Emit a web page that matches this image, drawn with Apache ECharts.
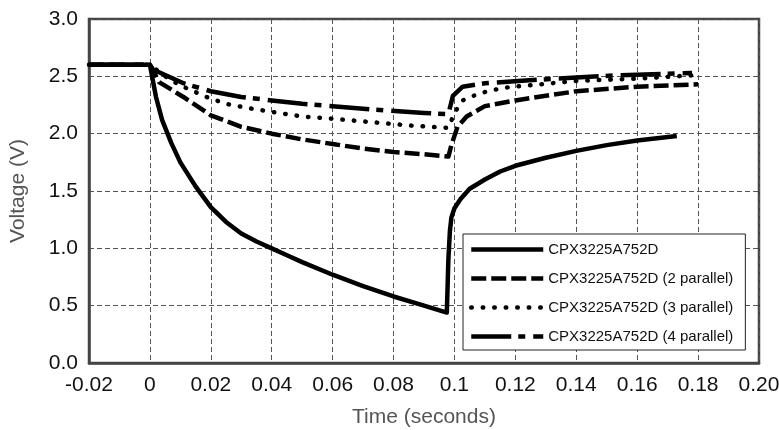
<!DOCTYPE html>
<html>
<head>
<meta charset="utf-8">
<script src="https://cdn.jsdelivr.net/npm/echarts@6/dist/echarts.min.js"></script>
<style>
  html, body { margin: 0; padding: 0; background: #fff; }
  #chart { width: 779px; height: 430px; }
</style>
</head>
<body>
<div id="chart"></div>
<script>
  // series names
  const names = [
    'CPX3225A752D',
    'CPX3225A752D (2 parallel)',
    'CPX3225A752D (3 parallel)',
    'CPX3225A752D (4 parallel)'
  ];

  // tick labels
  const xLabels = ['-0.02', '0', '0.02', '0.04', '0.06', '0.08', '0.1', '0.12', '0.14', '0.16', '0.18', '0.20'];
  const yLabels = ['0.0', '0.5', '1.0', '1.5', '2.0', '2.5', '3.0'];

  // single capacitor
  const t1 = [-0.02, 0, 0.002, 0.004, 0.007, 0.01, 0.015, 0.02, 0.025, 0.03, 0.035, 0.04, 0.045, 0.05, 0.06, 0.07, 0.08, 0.09, 0.0975,
              0.098, 0.0985, 0.099, 0.1, 0.102, 0.105, 0.11, 0.115, 0.12, 0.13, 0.14, 0.15, 0.16, 0.173];
  const v1 = [2.6, 2.6, 2.32, 2.12, 1.92, 1.75, 1.54, 1.36, 1.23, 1.13, 1.06, 1.0, 0.94, 0.88, 0.77, 0.67, 0.58, 0.50, 0.44,
              0.9, 1.15, 1.27, 1.35, 1.43, 1.52, 1.60, 1.67, 1.72, 1.79, 1.85, 1.90, 1.94, 1.98];

  // 2 parallel
  const t2 = [-0.02, 0, 0.003, 0.011, 0.02, 0.03, 0.04, 0.05, 0.06, 0.07, 0.08, 0.09, 0.098,
              0.099, 0.101, 0.104, 0.11, 0.12, 0.13, 0.14, 0.16, 0.18];
  const v2 = [2.6, 2.6, 2.45, 2.32, 2.16, 2.06, 2.0, 1.95, 1.91, 1.87, 1.84, 1.82, 1.80,
              1.9, 2.06, 2.15, 2.24, 2.29, 2.33, 2.37, 2.41, 2.43];

  // 3 parallel
  const t3 = [-0.02, 0, 0.005, 0.01, 0.0186, 0.025, 0.033, 0.04, 0.05, 0.06, 0.073, 0.086, 0.098,
              0.1, 0.1027, 0.108, 0.116, 0.124, 0.14, 0.16, 0.179];
  const v3 = [2.6, 2.6, 2.5, 2.42, 2.32, 2.26, 2.22, 2.19, 2.15, 2.13, 2.10, 2.07, 2.05,
              2.18, 2.29, 2.35, 2.40, 2.42, 2.46, 2.48, 2.51];

  // 4 parallel
  const t4 = [-0.02, 0, 0.001, 0.011, 0.02, 0.03, 0.04, 0.05, 0.06, 0.073, 0.09, 0.098,
              0.0995, 0.1027, 0.11, 0.121, 0.14, 0.154, 0.178];
  const v4 = [2.6, 2.6, 2.56, 2.44, 2.37, 2.32, 2.29, 2.26, 2.24, 2.21, 2.18, 2.17,
              2.33, 2.41, 2.44, 2.46, 2.49, 2.51, 2.53];

  const pairs = (t, v) => t.map((x, i) => [x, v[i]]);
  const font = 'Liberation Sans';
  const lw = 4.5;

  const styles = [
    { type: 'solid', cap: 'butt' },
    { type: [15, 5], cap: 'butt' },
    { type: [0.5, 11], cap: 'round' },
    { type: [40, 7, 7, 8], cap: 'butt' }
  ];
  const data = [pairs(t1, v1), pairs(t2, v2), pairs(t3, v3), pairs(t4, v4)];

  const chart = echarts.init(document.getElementById('chart'), null, { renderer: 'canvas' });
  chart.setOption({
    animation: false,
    backgroundColor: '#fff',
    textStyle: { fontFamily: font },
    grid: {
      left: 89, right: 20, top: 19, bottom: 67,
      outerBoundsMode: 'none',
      show: true, borderColor: '#444', borderWidth: 2.5, backgroundColor: 'transparent'
    },
    legend: {
      orient: 'vertical',
      left: 463, top: 234,
      padding: [8, 12, 6, 6],
      itemWidth: 72, itemHeight: 14, itemGap: 14,
      backgroundColor: '#fff',
      borderColor: '#222', borderWidth: 1,
      itemStyle: { color: 'rgba(0,0,0,0)', borderWidth: 0 },
      lineStyle: { width: lw },
      textStyle: { fontFamily: font, fontSize: 15, color: '#111' },
      data: names
    },
    xAxis: {
      type: 'value',
      min: -0.02, max: 0.2, interval: 0.02,
      name: 'Time (seconds)',
      nameLocation: 'middle', nameGap: 44,
      nameTextStyle: { fontFamily: font, fontSize: 21, color: '#555' },
      axisLine: { onZero: false, lineStyle: { color: '#444', width: 2.5 } },
      axisTick: { show: false },
      axisLabel: {
        margin: 12, fontSize: 21, color: '#111', fontFamily: font,
        formatter: v => xLabels[Math.round((v + 0.02) / 0.02)]
      },
      splitLine: { show: true, lineStyle: { color: '#555', width: 1, type: [5, 3] } }
    },
    yAxis: {
      type: 'value',
      min: 0, max: 3, interval: 0.5,
      name: 'Voltage (V)',
      nameLocation: 'middle', nameGap: 60,
      nameTextStyle: { fontFamily: font, fontSize: 21, color: '#555' },
      axisLine: { show: true, onZero: false, lineStyle: { color: '#444', width: 2.5 } },
      axisTick: { show: false },
      axisLabel: {
        margin: 11, fontSize: 21, color: '#111', fontFamily: font,
        formatter: v => yLabels[Math.round(v / 0.5)]
      },
      splitLine: { show: true, lineStyle: { color: '#555', width: 1, type: [5, 3] } }
    },
    series: names.map((n, i) => ({
      name: n,
      type: 'line',
      data: data[i],
      symbol: 'none',
      color: '#000',
      lineStyle: { color: '#000', width: lw, type: styles[i].type, cap: styles[i].cap, join: 'round' },
      z: 2 + i
    }))
  });
</script>
</body>
</html>
